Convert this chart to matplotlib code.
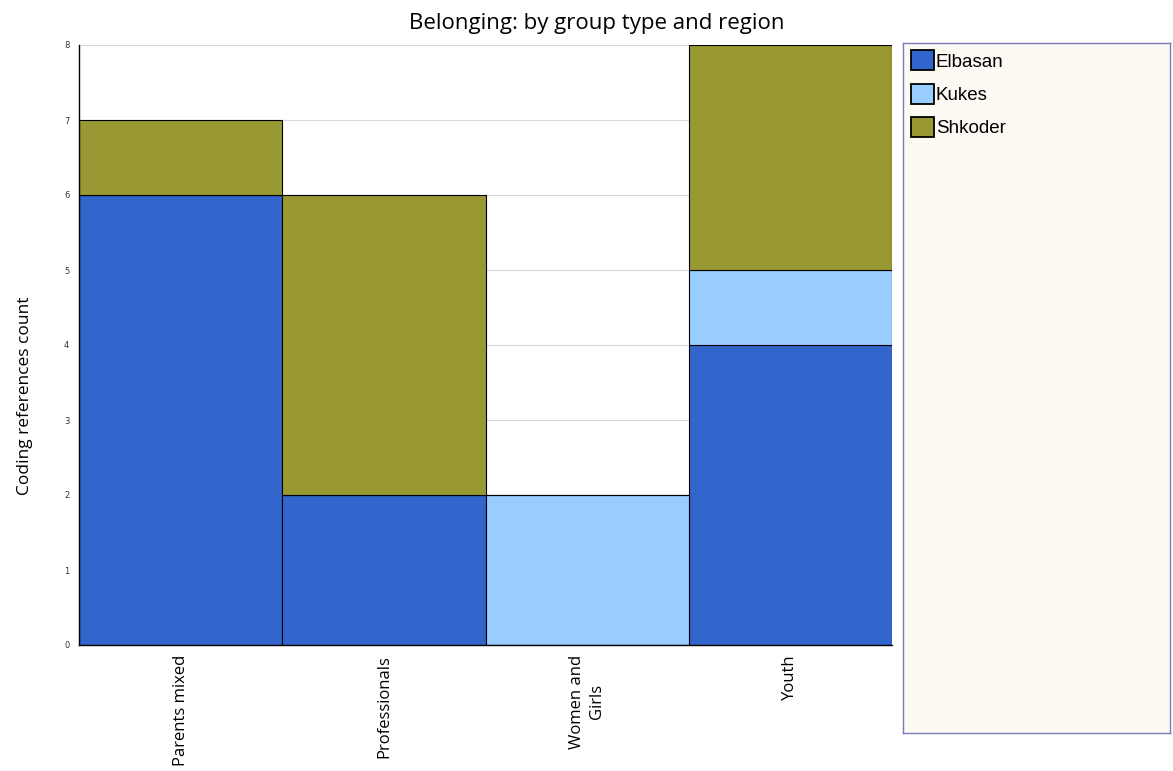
import matplotlib
matplotlib.use("Agg")
from matplotlib import pyplot as plt
from matplotlib.patches import Patch
import numpy as np

categories = ["Parents mixed", "Professionals", "Women and\nGirls", "Youth"]
regions = ["Elbasan", "Kukes", "Shkoder"]
elbasan = [6, 2, 0, 4]
kukes = [0, 0, 2, 1]
shkoder = [1, 4, 0, 3]
colors = ["#3366CC", "#99CCFF", "#999933"]

W, H = 1173, 771
fig = plt.figure(figsize=(W / 100, H / 100), dpi=100)
ax = fig.add_axes([79 / W, 1 - 645 / H, (892 - 79) / W, 600 / H])

x = np.arange(len(categories))
bottom = np.zeros(len(categories))
for vals, c in zip([elbasan, kukes, shkoder], colors):
    ax.bar(x, vals, width=1.0, bottom=bottom, color=c, edgecolor="black",
           linewidth=0.8, zorder=2)
    bottom += np.array(vals)

ax.set_xlim(-0.5, len(categories) - 0.5)
ax.set_ylim(0, 8)
ax.set_yticks(range(0, 9))
ax.yaxis.grid(True, color="#d9d9d9", linewidth=0.8, zorder=0)
ax.tick_params(axis="y", labelsize=6, length=0, pad=7, labelcolor="#333333")
ax.set_xticks(x)
ax.set_xticklabels(categories, rotation=90, fontsize=12, family="Open Sans",
                   va="top", ha="center", linespacing=1.3)
ax.tick_params(axis="x", length=0, pad=7)
for s in ["top", "right"]:
    ax.spines[s].set_visible(False)
ax.spines["left"].set_linewidth(1.0)
ax.spines["bottom"].set_linewidth(1.0)

fig.text(25 / W, 1 - 396 / H, "Coding references count", fontsize=12.5,
         family="Open Sans", rotation=90, ha="center", va="center")
fig.text(597 / W, 1 - 29 / H, "Belonging: by group type and region", fontsize=16,
         family="Open Sans", ha="center", va="baseline")

# legend box
lax = fig.add_axes([903 / W, 1 - 733 / H, 267 / W, 690 / H])
lax.set_facecolor("#FDF9F3")
lax.set_xticks([])
lax.set_yticks([])
for s in lax.spines.values():
    s.set_color("#7a7ab8")
    s.set_linewidth(1.0)
handles = [Patch(facecolor=c, edgecolor="black", linewidth=1.3, label=r)
           for r, c in zip(regions, colors)]
lax.legend(handles=handles, loc="upper left", frameon=False,
           prop={"family": "Liberation Sans", "size": 13.5},
           handlelength=1.25, handleheight=1.25, handletextpad=0.1,
           labelspacing=0.7, borderaxespad=0.0, borderpad=0.4)

fig.savefig("out.png", dpi=100)
